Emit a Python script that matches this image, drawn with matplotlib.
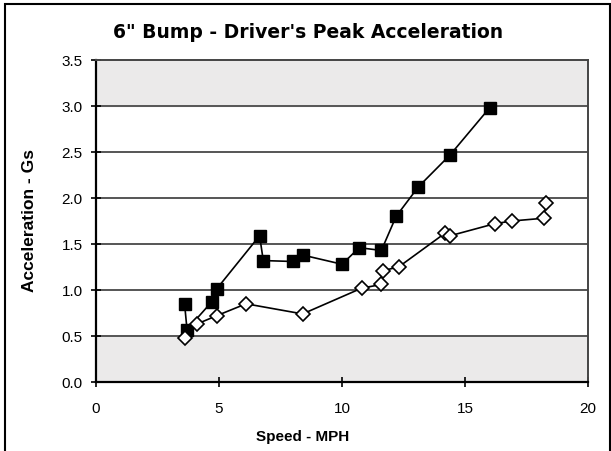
import matplotlib.pyplot as plt
from matplotlib.patches import Rectangle

# black squares series
sq_speed = [3.6, 3.7, 4.7, 4.9, 6.65, 6.8, 8.0, 8.4, 10.0, 10.7, 11.6, 12.2, 13.1, 14.4, 16.0]
sq_accel = [0.85, 0.57, 0.87, 1.01, 1.59, 1.32, 1.31, 1.38, 1.28, 1.46, 1.43, 1.80, 2.12, 2.47, 2.98]

# open diamonds series
dm_speed = [3.6, 4.1, 4.9, 6.1, 8.4, 10.8, 11.6, 11.65, 12.3, 14.2, 14.4, 16.2, 16.9, 18.2, 18.3]
dm_accel = [0.48, 0.63, 0.72, 0.85, 0.74, 1.02, 1.06, 1.21, 1.25, 1.62, 1.59, 1.72, 1.75, 1.78, 1.95]

x_ticks = [0, 5, 10, 15, 20]
y_ticks = [0.0, 0.5, 1.0, 1.5, 2.0, 2.5, 3.0, 3.5]

plt.rcParams['font.family'] = ['Liberation Sans', 'DejaVu Sans']

fig = plt.figure(figsize=(6.11, 4.52), dpi=100)
ax = fig.add_axes([96/611, 1-383/452, (588-96)/611, (383-61)/452])

# outer frame of the scanned chart
fig.patches.append(Rectangle((5/611, -0.05), 605/611, 1.05 - 5/452, transform=fig.transFigure,
                             fill=False, edgecolor='black', linewidth=1.5))

# grey bands at top and bottom of plot area
ax.axhspan(0.0, 0.5, color='#ebeaea', zorder=0)
ax.axhspan(3.0, 3.5, color='#ebeaea', zorder=0)

for y in y_ticks[1:-1]:
    ax.axhline(y, color='#555555', linewidth=1.4, zorder=1)

ax.plot(sq_speed, sq_accel, color='black', linewidth=1.2, marker='s', markersize=9,
        markerfacecolor='black', markeredgecolor='black', zorder=3)
ax.plot(dm_speed, dm_accel, color='black', linewidth=1.2, marker='D', markersize=7,
        markerfacecolor='white', markeredgecolor='black', markeredgewidth=1.2, zorder=4)

ax.set_xlim(0, 20)
ax.set_ylim(0, 3.5)
ax.set_xticks(x_ticks)
ax.set_yticks(y_ticks)
ax.set_yticklabels(['%.1f' % v for v in y_ticks])
ax.tick_params(axis='both', direction='inout', length=7, width=1.2, labelsize=11)
ax.tick_params(axis='x', pad=10)
ax.tick_params(axis='y', pad=6)

for s in ['left', 'bottom']:
    ax.spines[s].set_linewidth(1.6)
    ax.spines[s].set_color('black')
for s in ['top', 'right']:
    ax.spines[s].set_linewidth(1.4)
    ax.spines[s].set_color('#444444')

fig.text(308/611, 1-32/452, '6" Bump - Driver\'s Peak Acceleration', family='DejaVu Sans',
         fontsize=13.5, fontweight='bold', ha='center', va='center')
fig.text(303/611, 1-437/452, 'Speed - MPH', fontsize=11, fontweight='bold',
         ha='center', va='center')
fig.text(30/611, 1-221/452, 'Acceleration - Gs', fontsize=12.5, fontweight='bold',
         ha='center', va='center', rotation=90)

fig.savefig('out.png', dpi=100)
